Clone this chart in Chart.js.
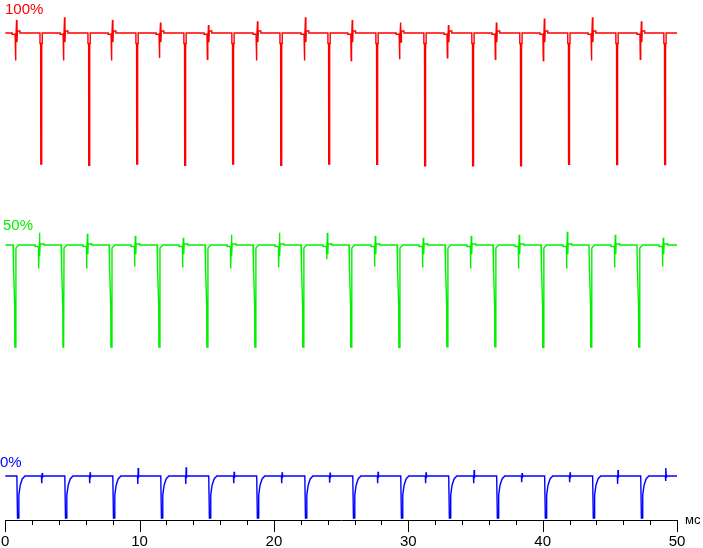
<!DOCTYPE html>
<html lang="ru">
  <head>
    <meta charset="UTF-8" />
    <script src="https://cdn.jsdelivr.net/npm/chart.js"></script>
    <title>PWM flicker</title>
    <style>
      body {
        margin: 0;
        background-color: #ffffff;
      }
      .chart-container {
        position: relative;
        width: 703px;
        height: 548px;
      }
    </style>
  </head>
  <body>
    <div class="chart-container">
      <canvas id="pwmChart" width="703" height="548"></canvas>
    </div>

    <script>
      // time axis, ms
      const xMin = 0;
      const xMax = 50;
      const majorTicks = [0, 10, 20, 30, 40, 50];
      const minorTicks = [2, 4, 6, 8, 12, 14, 16, 18, 22, 24, 26, 28, 32, 34, 36, 38, 42, 44, 46, 48];
      const unitLabel = "мс";

      const seriesLabels = ["100%", "50%", "0%"];
      const seriesColors = ["#ff0000", "#00f000", "#0000ff"];

      // 100% brightness: deep dips and the little spikes between them
      const redDipTimes = [2.68, 6.25, 9.82, 13.39, 16.96, 20.54, 24.11, 27.68, 31.25, 34.82, 38.39, 41.96, 45.54, 49.11];
      const redDipLows = [0, -1, 0, -1, 0, -1, 0, -0.2, -1.3, -1.3, -1.3, -0.2, -0.5, -0.5];
      const redSpikeTimes = [0.82, 4.39, 7.96, 11.53, 15.1, 18.75, 22.32, 25.8, 29.4, 32.96, 36.53, 40.1, 43.68, 47.32];
      const redSpikeHighs = [110, 112, 110, 108, 106, 109, 112, 110, 108, 106, 108, 111, 112, 109];
      const redSpikeLows = [79, 79, 79, 81, 80, 79, 79, 79, 80, 81, 80, 79, 79, 80];

      // 50% brightness
      const greenDipTimes = [0.74, 4.32, 7.89, 11.46, 15.03, 18.6, 22.17, 25.74, 29.32, 32.89, 36.46, 40.03, 43.6, 47.17];
      const greenDipLows = [0, 0, 0, 0, 0, 0, 0, 0, -0.5, 0.3, 0.3, -0.5, 0, 0];
      const greenSpikeTimes = [2.53, 6.1, 9.67, 13.24, 16.82, 20.39, 23.96, 27.53, 31.1, 34.67, 38.24, 41.82, 45.39, 48.96];
      const greenSpikeHighs = [112, 111, 109, 107, 110, 112, 112, 109, 107, 109, 110, 113, 110, 107];
      const greenSpikeLows = [77, 77, 79, 78, 77, 78, 86, 79, 78, 77, 77, 77, 78, 79];

      // 0% brightness
      const blueDipTimes = [0.97, 4.54, 8.11, 11.68, 15.25, 18.82, 22.4, 25.97, 29.54, 33.11, 36.68, 40.25, 43.82, 47.4];
      const blueDipLows = [0, 0, 0, 0, 0, 0, 0, 0, 0, 0, 0, 0, 0, 0];
      const blueSpikeTimes = [2.75, 6.32, 9.9, 13.47, 17.04, 20.61, 24.18, 27.75, 31.32, 34.9, 38.47, 42.04, 45.61, 49.18];
      const blueSpikeHighs = [107, 109, 119, 121, 110, 109, 108, 110, 109, 114, 107, 109, 114, 119];
      const blueSpikeLows = [83, 83, 81, 81, 83, 83, 84, 83, 83, 83, 85, 85, 81, 88];

      // shape of one event, [offset ms, level] ("L" / "H" = the event's own low / high)
      const redDipShape = [[-0.09, 100], [-0.09, 92], [-0.04, 92], [-0.03, "L"], [0.03, "L"], [0.04, 92], [0.08, 92], [0.08, 100]];
      const redSpikeShape = [[-0.3, 100], [-0.3, 99], [-0.08, 99], [-0.05, "L"], [-0.02, 93], [0.03, "H"], [0.06, 93], [0.09, 101.5], [0.28, 101.5], [0.28, 100]];
      const greenDipShape = [[-0.15, 100], [-0.12, 78], [-0.03, 40], [-0.02, "L"], [0.03, "L"], [0.06, 97], [0.2, 99], [0.26, 100]];
      const greenSpikeShape = [[-0.3, 100], [-0.3, 98.5], [-0.05, 98.5], [-0.04, "L"], [-0.01, 92], [0.02, "H"], [0.05, 91], [0.08, 101], [0.35, 101], [0.35, 100]];
      const blueDipShape = [[-0.1, 100], [-0.05, "L"], [0.03, "L"], [0.05, 55], [0.15, 78], [0.3, 93], [0.5, 100]];
      const blueSpikeShape = [[-0.05, 100], [-0.03, "L"], [0.0, "H"], [0.03, 97], [0.08, 100]];

      // where each trace sits on the canvas: baseline / dip bottom, px
      const plotBottom = 520;
      const traceRows = [
        [33, 164],
        [245, 347],
        [476, 518],
      ];
      // label: left edge and gap above the baseline, px
      const labelPlaces = [
        [5, 18],
        [3, 14],
        [0, 8],
      ];

      function levelRange(basePx, lowPx) {
        const k = 100 / (lowPx - basePx);
        return { min: -(plotBottom - lowPx) * k, max: 100 + basePx * k };
      }

      function buildTrace(dipTimes, dipLows, dipShape, spikeTimes, spikeHighs, spikeLows, spikeShape) {
        const events = [];
        dipTimes.forEach((t, i) => events.push({ t: t, shape: dipShape, L: dipLows[i], H: 100 }));
        spikeTimes.forEach((t, i) => events.push({ t: t, shape: spikeShape, L: spikeLows[i], H: spikeHighs[i] }));
        events.sort((a, b) => a.t - b.t);

        const pts = [{ x: xMin, y: 100 }];
        events.forEach((e) => {
          e.shape.forEach(([dt, lv]) => {
            const x = Math.min(xMax, Math.max(xMin, e.t + dt));
            const y = lv === "L" ? e.L : lv === "H" ? e.H : lv;
            pts.push({ x: x, y: y });
          });
        });
        pts.push({ x: xMax, y: 100 });
        return pts;
      }

      const traces = [
        buildTrace(redDipTimes, redDipLows, redDipShape, redSpikeTimes, redSpikeHighs, redSpikeLows, redSpikeShape),
        buildTrace(greenDipTimes, greenDipLows, greenDipShape, greenSpikeTimes, greenSpikeHighs, greenSpikeLows, greenSpikeShape),
        buildTrace(blueDipTimes, blueDipLows, blueDipShape, blueSpikeTimes, blueSpikeHighs, blueSpikeLows, blueSpikeShape),
      ];
      const axisIds = ["yR", "yG", "yB"];

      // ticks of two lengths, label per trace, unit at the end of the axis
      const decorPlugin = {
        id: "decor",
        afterDraw(chart) {
          const ctx = chart.ctx;
          const x = chart.scales.x;
          const area = chart.chartArea;
          ctx.save();
          ctx.strokeStyle = "#000";
          ctx.lineWidth = 1;
          ctx.beginPath();
          majorTicks.forEach((v) => {
            const px = Math.round(x.getPixelForValue(v)) + 0.5;
            ctx.moveTo(px, area.bottom);
            ctx.lineTo(px, area.bottom + 12);
          });
          minorTicks.forEach((v) => {
            const px = Math.round(x.getPixelForValue(v)) + 0.5;
            ctx.moveTo(px, area.bottom);
            ctx.lineTo(px, area.bottom + 5);
          });
          ctx.stroke();

          ctx.font = "15px 'Liberation Sans', Arial, sans-serif";
          ctx.textBaseline = "bottom";
          ctx.textAlign = "left";
          seriesLabels.forEach((txt, i) => {
            const y = chart.scales[axisIds[i]].getPixelForValue(100);
            ctx.fillStyle = seriesColors[i];
            ctx.fillText(txt, labelPlaces[i][0], y - labelPlaces[i][1] + 2);
          });

          ctx.fillStyle = "#000";
          ctx.font = "13px 'Liberation Sans', Arial, sans-serif";
          ctx.fillText(unitLabel, x.getPixelForValue(xMax) + 8, area.bottom + 7);
          ctx.restore();
        },
      };

      const scales = {
        x: {
          type: "linear",
          min: xMin,
          max: xMax,
          afterFit: (s) => {
            s.height = 548 - plotBottom;
          },
          border: { display: true, color: "#000", width: 1 },
          grid: {
            display: true,
            drawOnChartArea: false,
            color: "rgba(0,0,0,0)",
            tickLength: 12,
          },
          ticks: {
            stepSize: 10,
            maxRotation: 0,
            autoSkip: false,
            padding: 1,
            color: "#000",
            font: { family: "'Liberation Sans', Arial, sans-serif", size: 15 },
          },
        },
      };
      traceRows.forEach((row, i) => {
        const r = levelRange(row[0], row[1]);
        scales[axisIds[i]] = { type: "linear", display: false, min: r.min, max: r.max };
      });

      new Chart(document.getElementById("pwmChart").getContext("2d"), {
        type: "line",
        data: {
          datasets: traces.map((pts, i) => ({
            label: seriesLabels[i],
            data: pts,
            yAxisID: axisIds[i],
            borderColor: seriesColors[i],
            borderWidth: 1.4,
            pointRadius: 0,
            tension: 0,
          })),
        },
        options: {
          responsive: false,
          animation: false,
          devicePixelRatio: 1,
          layout: { padding: { left: 4, right: 26, top: 0, bottom: 0 } },
          plugins: { legend: { display: false }, tooltip: { enabled: false } },
          scales: scales,
        },
        plugins: [decorPlugin],
      });
    </script>
  </body>
</html>
